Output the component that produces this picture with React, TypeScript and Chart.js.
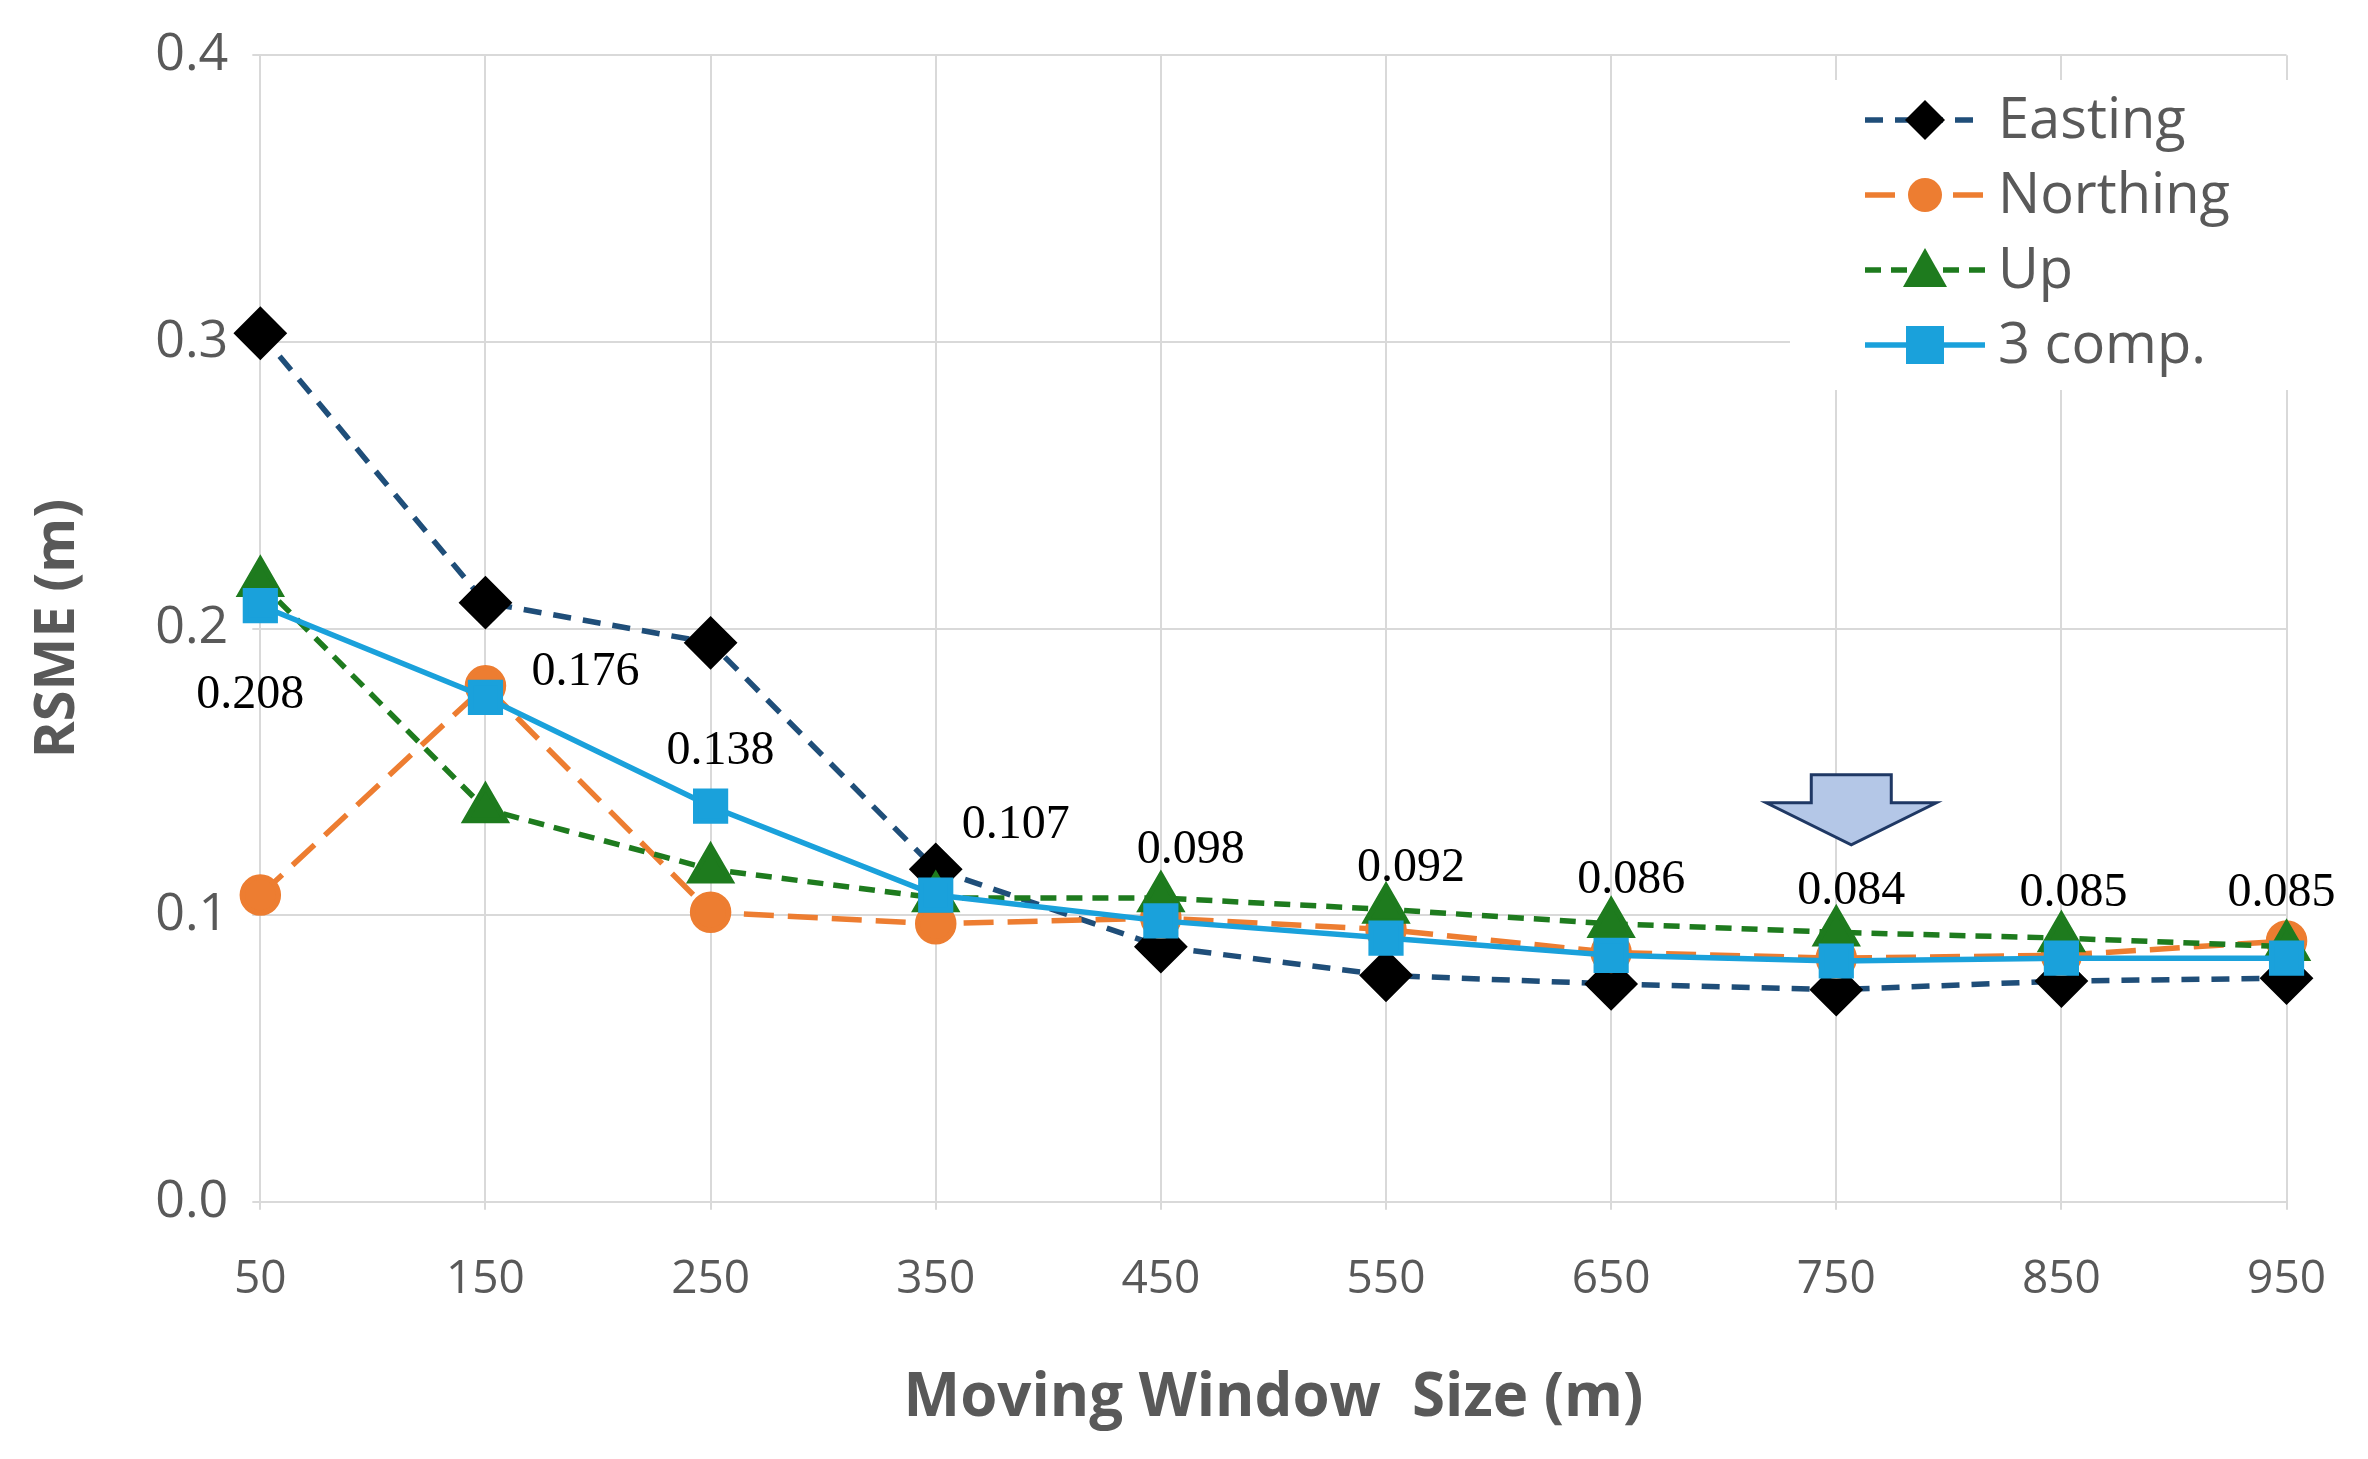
import React, { useEffect, useRef } from "react";
import { Chart, registerables } from "chart.js";
Chart.register(...registerables);

const categories = ["50", "150", "250", "350", "450", "550", "650", "750", "850", "950"];
const easting = [0.303, 0.209, 0.195, 0.116, 0.089, 0.079, 0.076, 0.074, 0.077, 0.078];
const northing = [0.107, 0.180, 0.101, 0.097, 0.099, 0.095, 0.087, 0.085, 0.086, 0.091];
const up = [0.216, 0.137, 0.116, 0.106, 0.106, 0.102, 0.097, 0.094, 0.092, 0.089];
const comp3 = [0.208, 0.176, 0.138, 0.107, 0.098, 0.092, 0.086, 0.084, 0.085, 0.085];
const compLabels = ["0.208", "0.176", "0.138", "0.107", "0.098", "0.092", "0.086", "0.084", "0.085", "0.085"];
const labelOffsets = [[-10, 90], [100, -25], [10, -55], [80, -70], [30, -70], [25, -70], [20, -75], [15, -70], [12, -65], [-5, -65]];

const overlay = {
  id: "overlay",
  afterDatasetsDraw(chart: any) {
    const ctx = chart.ctx;
    const xs = chart.scales.x, ys = chart.scales.y;
    ctx.save();
    ctx.font = "48px 'Liberation Serif'";
    ctx.fillStyle = "#000";
    ctx.textAlign = "center";
    ctx.textBaseline = "middle";
    comp3.forEach((v, i) => {
      const x = xs.getPixelForValue(i) + labelOffsets[i][0];
      const y = ys.getPixelForValue(v) + labelOffsets[i][1];
      ctx.fillText(compLabels[i], x, y);
    });
    const ax = xs.getPixelForValue(7) + 15;
    const ay = ys.getPixelForValue(0.135);
    ctx.beginPath();
    ctx.moveTo(ax - 40, ay - 40);
    ctx.lineTo(ax + 40, ay - 40);
    ctx.lineTo(ax + 40, ay - 12);
    ctx.lineTo(ax + 85, ay - 12);
    ctx.lineTo(ax, ay + 30);
    ctx.lineTo(ax - 85, ay - 12);
    ctx.lineTo(ax - 40, ay - 12);
    ctx.closePath();
    ctx.fillStyle = "#b4c7e7";
    ctx.fill();
    ctx.strokeStyle = "#1f3864";
    ctx.lineWidth = 3;
    ctx.stroke();
    const lx = 1790, ly = 80;
    ctx.fillStyle = "#fff";
    ctx.fillRect(lx, ly, 520, 310);
    const items = [
      { t: "Easting", c: "#1f4e79", m: "#000", s: "rectRot", d: [18, 12] },
      { t: "Northing", c: "#ed7d31", m: "#ed7d31", s: "circle", d: [30, 14] },
      { t: "Up", c: "#1e7b1e", m: "#1e7b1e", s: "triangle", d: [16, 10] },
      { t: "3 comp.", c: "#1aa1db", m: "#1aa1db", s: "rect", d: [] },
    ];
    items.forEach((it, k) => {
      const y = ly + 40 + k * 75;
      ctx.strokeStyle = it.c;
      ctx.lineWidth = 5.5;
      ctx.setLineDash(it.d);
      ctx.beginPath();
      ctx.moveTo(lx + 75, y);
      ctx.lineTo(lx + 195, y);
      ctx.stroke();
      ctx.setLineDash([]);
      ctx.fillStyle = it.m;
      const r = 20;
      ctx.beginPath();
      if (it.s === "rectRot") { ctx.moveTo(lx + 135, y - r); ctx.lineTo(lx + 135 + r, y); ctx.lineTo(lx + 135, y + r); ctx.lineTo(lx + 135 - r, y); ctx.closePath(); }
      else if (it.s === "circle") { ctx.arc(lx + 135, y, 17, 0, Math.PI * 2); }
      else if (it.s === "triangle") { ctx.moveTo(lx + 135, y - 22); ctx.lineTo(lx + 157, y + 17); ctx.lineTo(lx + 113, y + 17); ctx.closePath(); }
      else { ctx.rect(lx + 116, y - 19, 38, 38); }
      ctx.fill();
      ctx.fillStyle = "#595959";
      ctx.font = "56px 'Open Sans'";
      ctx.textAlign = "left";
      ctx.fillText(it.t, lx + 208, y + 2);
    });
    ctx.restore();
  },
};

export default function App() {
  const ref = useRef<HTMLCanvasElement>(null);
  useEffect(() => {
    document.body.style.margin = "0";
    const ds = (label: string, data: number[], color: string, mcolor: string, style: string, r: number, dash: number[]) => ({
      label, data, borderColor: color, backgroundColor: mcolor, pointBackgroundColor: mcolor, pointBorderColor: mcolor,
      pointStyle: style, pointRadius: r, borderWidth: 5.5, borderDash: dash, fill: false, tension: 0,
    });
    const chart = new Chart(ref.current!, {
      type: "line",
      data: {
        labels: categories,
        datasets: [
          ds("3 comp.", comp3, "#1aa1db", "#1aa1db", "rect", 21, []),
          ds("Up", up, "#1e7b1e", "#1e7b1e", "triangle", 23, [16, 10]),
          ds("Northing", northing, "#ed7d31", "#ed7d31", "circle", 18, [30, 14]),
          ds("Easting", easting, "#1f4e79", "#000", "rectRot", 23, [18, 12]),
        ] as any,
      },
      options: {
        responsive: false,
        animation: false,
        devicePixelRatio: 1,
        layout: { padding: { top: 30, right: 60, left: 20, bottom: 20 } },
        plugins: { legend: { display: false }, tooltip: { enabled: false } },
        scales: {
          x: {
            offset: false,
            grid: { color: "#d9d9d9", lineWidth: 2 },
            border: { color: "#d9d9d9", width: 2 },
            ticks: { color: "#595959", font: { size: 46, family: "'Open Sans'" }, padding: 42 },
            title: { display: true, text: "Moving Window  Size (m)", color: "#595959", font: { size: 60, weight: "bold", family: "'Open Sans'" }, padding: { top: 14 } },
          },
          y: {
            min: 0, max: 0.4,
            grid: { color: "#d9d9d9", lineWidth: 2 },
            border: { display: false },
            ticks: { stepSize: 0.1, color: "#595959", font: { size: 52, family: "'Open Sans'" }, padding: 24, callback: (v: any) => Number(v).toFixed(1) },
            title: { display: true, text: "RSME (m)", color: "#595959", font: { size: 56, weight: "bold", family: "'Open Sans'" }, padding: { bottom: 40 } },
          },
        },
      },
      plugins: [overlay],
    });
    return () => chart.destroy();
  }, []);
  return <canvas ref={ref} width={2368} height={1459} />;
}
